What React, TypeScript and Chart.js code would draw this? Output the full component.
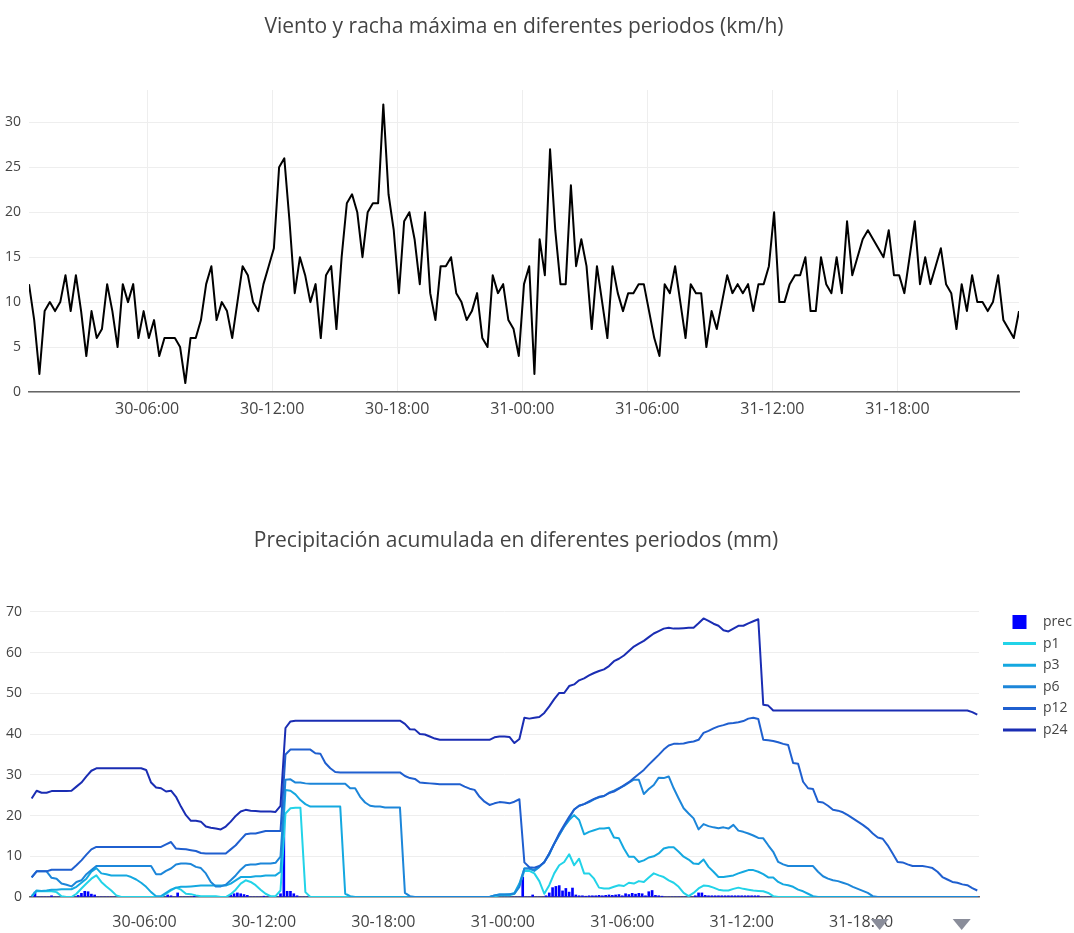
import React, { useEffect, useRef } from "react";
import { Chart, registerables } from "chart.js";

Chart.register(...registerables);

const FONT = "'Open Sans', sans-serif";
const TEXT = "#444";
const GRID = "#eeeeee";

const windTitle = "Viento y racha máxima en diferentes periodos (km/h)";
const precTitle = "Precipitación acumulada en diferentes periodos (mm)";

// hours counted from 30-00:00
const xTickHours = [6, 12, 18, 24, 30, 36, 42];
const xTickLabels = ["30-06:00", "30-12:00", "30-18:00", "31-00:00", "31-06:00", "31-12:00", "31-18:00"];
const windYTicks = [0, 5, 10, 15, 20, 25, 30];
const precYTicks = [0, 10, 20, 30, 40, 50, 60, 70];
// grey down-pointing markers under the lower axis
const markerHours = [42.93, 47.05];

// wind gust, every 15 min from 30-00:20
const windStartHour = 1 / 3;
const windStepHours = 0.25;
const wind = [
  12, 8, 2, 9, 10, 9, 10, 13, 9, 13,
  9, 4, 9, 6, 7, 12, 9, 5, 12, 10,
  12, 6, 9, 6, 8, 4, 6, 6, 6, 5,
  1, 6, 6, 8, 12, 14, 8, 10, 9, 6,
  10, 14, 13, 10, 9, 12, 14, 16, 25, 26,
  19, 11, 15, 13, 10, 12, 6, 13, 14, 7,
  15, 21, 22, 20, 15, 20, 21, 21, 32, 22,
  18, 11, 19, 20, 17, 12, 20, 11, 8, 14,
  14, 15, 11, 10, 8, 9, 11, 6, 5, 13,
  11, 12, 8, 7, 4, 12, 14, 2, 17, 13,
  27, 18, 12, 12, 23, 14, 17, 14, 7, 14,
  10, 6, 14, 11, 9, 11, 11, 12, 12, 9,
  6, 4, 12, 11, 14, 10, 6, 12, 11, 11,
  5, 9, 7, 10, 13, 11, 12, 11, 12, 9,
  12, 12, 14, 20, 10, 10, 12, 13, 13, 15,
  9, 9, 15, 12, 11, 15, 11, 19, 13, 15,
  17, 18, 17, 16, 15, 18, 13, 13, 11, 15,
  19, 12, 15, 12, 14, 16, 12, 11, 7, 12,
  9, 13, 10, 10, 9, 10, 13, 8, 7, 6, 9,
];

// accumulated precipitation, every 15 min from 30-00:20
const accStartHour = 1 / 3;
const accStepHours = 0.25;
const p1 = [
  0.2, 1.5, 1.4, 1.5, 1.4, 1.2, 0.2, 0, 0, 0.8,
  2.1, 3.3, 4.5, 5.3, 3.7, 2.6, 1.6, 0.4, 0, 0,
  0, 0, 0, 0, 0, 0, 0, 0.8, 1.6, 2.3,
  1.8, 0.8, 0.7, 0.4, 0.2, 0.2, 0.2, 0.2, 0, 0,
  0.7, 1.8, 3.3, 4.1, 3.7, 2.9, 1.8, 0.8, 0.2, 0.2,
  1.6, 20.5, 21.8, 21.9, 21.9, 1.2, 0, 0, 0, 0,
  0, 0, 0, 0, 0, 0, 0, 0, 0, 0,
  0, 0, 0, 0, 0, 0, 0, 0, 0, 0,
  0, 0, 0, 0, 0, 0, 0, 0, 0, 0,
  0, 0, 0, 0.2, 0.4, 0.4, 0.4, 0.8, 2.9, 6.4,
  6.4, 5.8, 3.9, 0.8, 2.9, 5.8, 7.8, 8.6, 10.5, 7.8,
  9.4, 5.8, 5.8, 4.5, 2.3, 2.1, 2.1, 2.5, 2.9, 2.7,
  3.5, 3.3, 3.9, 3.7, 4.8, 5.8, 5.3, 4.9, 4.1, 3.5,
  2.5, 1, 0.2, 1, 2.1, 2.8, 2.7, 2.3, 1.8, 1.6,
  1.6, 2, 2.3, 2, 1.8, 1.6, 1.5, 1.4, 1, 0.2,
  0, 0, 0, 0, 0, 0, 0, 0, 0, 0,
  0, 0, 0, 0, 0, 0, 0, 0, 0, 0,
  0, 0, 0, 0, 0, 0, 0, 0, 0, 0,
  0, 0, 0, 0, 0, 0, 0, 0, 0, 0, 0,
];
const p3 = [
  0.2, 1.6, 1.5, 1.6, 1.8, 1.8, 1.9, 1.9, 1.9, 2.5,
  3.5, 4.5, 6.2, 7.1, 5.8, 5.6, 5.3, 5.3, 5.3, 5.3,
  4.9, 4.3, 3.5, 2.5, 1.2, 0.2, 0.2, 1, 1.8, 2.3,
  2.5, 2.5, 2.6, 2.7, 2.8, 2.8, 2.8, 2.8, 2.8, 2.8,
  3.3, 4.1, 4.9, 4.9, 4.9, 5.1, 5.1, 5.3, 5.3, 5.3,
  6.2, 26.3, 26.1, 25.2, 23.8, 22.8, 22.2, 22.2, 22.2, 22.2,
  22.2, 22.2, 22.2, 0.8, 0.2, 0, 0, 0, 0, 0,
  0, 0, 0, 0, 0, 0, 0, 0, 0, 0,
  0, 0, 0, 0, 0, 0, 0, 0, 0, 0,
  0, 0, 0, 0.4, 0.6, 0.6, 0.6, 1, 3.3, 7,
  7, 6.4, 7.4, 8.6, 10.4, 13.1, 15.2, 17.3, 18.9, 20.1,
  18.9, 15.4, 16, 16.4, 16.8, 16.8, 17, 14.6, 14.4, 11.9,
  9.9, 9.9, 8.6, 9, 9.7, 10, 10.7, 11.9, 12.2, 12.2,
  11.1, 9.9, 9.2, 8.2, 8.1, 9.2, 7.4, 6.2, 4.9, 4.9,
  5.1, 5.3, 5.8, 6.2, 6.6, 6.6, 6.2, 5.6, 4.8, 4.8,
  3.7, 3.1, 2.9, 2.5, 1.8, 1.4, 0.8, 0.2, 0, 0,
  0, 0, 0, 0, 0, 0, 0, 0, 0, 0,
  0, 0, 0, 0, 0, 0, 0, 0, 0, 0,
  0, 0, 0, 0, 0, 0, 0, 0, 0, 0, 0,
];
const p6 = [
  4.8, 6.3, 6.3, 6.3, 4.7, 4.5, 3.3, 3, 2.6, 3.7,
  4.1, 5.6, 6.6, 7.6, 7.6, 7.6, 7.6, 7.6, 7.6, 7.6,
  7.6, 7.6, 7.6, 7.6, 7.6, 5.6, 5.6, 6.4, 7, 8,
  8.2, 8.2, 8.1, 7.4, 7.1, 5.8, 3.7, 2.6, 2.6, 3,
  4.1, 5.3, 6.7, 7.8, 8, 8, 8.2, 8.2, 8.2, 8.4,
  9.9, 28.8, 28.9, 28.1, 28.1, 27.9, 27.8, 27.8, 27.8, 27.8,
  27.8, 27.8, 27.8, 27.8, 26.7, 26.7, 24.6, 23.2, 22.4, 22.2,
  22.2, 22, 22, 22, 22, 1, 0.2, 0, 0, 0,
  0, 0, 0, 0, 0, 0, 0, 0, 0, 0,
  0, 0, 0, 0.4, 0.6, 0.6, 0.7, 0.8, 2.5, 7,
  7, 6.6, 7.4, 8.6, 10.7, 13.1, 15.2, 17.3, 19.3, 21.5,
  22.4, 22.8, 23.3, 24, 24.5, 24.8, 25.6, 26.1, 26.7, 27.3,
  28.1, 28.8, 28.8, 25.3, 26.5, 27.5, 29.3, 29.2, 29.6, 26.7,
  24.2, 21.8, 20.5, 19.3, 16.6, 17.9, 17.4, 17.1, 16.9, 17.1,
  16.8, 17.7, 16.3, 16, 15.6, 15.1, 14.5, 14.4, 12.7, 11.1,
  8.6, 8, 7.6, 7.6, 7.6, 7.6, 7.6, 7.6, 6.2, 5.1,
  4.5, 4.1, 3.9, 3.5, 3.1, 2.5, 2, 1.5, 1, 0.2,
  0, 0, 0, 0, 0, 0, 0, 0, 0, 0,
  0, 0, 0, 0, 0, 0, 0, 0, 0, 0, 0,
];
const p12 = [
  4.8, 6.3, 6.3, 6.3, 6.7, 6.7, 6.7, 6.7, 6.7, 7.8,
  9, 10.4, 11.7, 12.3, 12.3, 12.3, 12.3, 12.3, 12.3, 12.3,
  12.3, 12.3, 12.3, 12.3, 12.3, 12.3, 12.3, 12.9, 13.5, 11.9,
  11.8, 11.7, 11.5, 11.3, 10.8, 10.7, 10.7, 10.7, 10.7, 10.7,
  11.7, 12.7, 14.1, 15.4, 15.6, 15.6, 15.9, 16.2, 16.2, 16.2,
  16.2, 35, 36.2, 36.2, 36.2, 36.2, 36.2, 35.3, 35.2, 32.9,
  31.6, 30.7, 30.6, 30.6, 30.6, 30.6, 30.6, 30.6, 30.6, 30.6,
  30.6, 30.6, 30.6, 30.6, 30.6, 29.7, 29.2, 29, 28.1, 28,
  27.9, 27.8, 27.7, 27.7, 27.7, 27.7, 27.7, 27.1, 26.6, 26.3,
  24.6, 23.4, 22.6, 23, 23.3, 23.2, 23, 23.4, 24, 8.5,
  7.3, 7.2, 7.6, 8.5, 10.7, 13.1, 15.6, 17.7, 19.7, 21.5,
  22.4, 22.8, 23.5, 24.1, 24.6, 24.8, 25.5, 25.9, 26.6, 27.4,
  28.2, 29.2, 30.2, 31.2, 32.5, 33.7, 34.9, 36.2, 37.2, 37.6,
  37.6, 37.7, 38, 38.2, 38.6, 40.3, 40.8, 41.4, 41.9, 42.2,
  42.6, 42.7, 42.9, 43.2, 43.8, 44, 43.7, 38.6, 38.5, 38.3,
  38, 37.6, 37.3, 32.9, 32.7, 28.3, 26.7, 26.5, 23.4, 23.2,
  22.4, 21.4, 21.2, 20.8, 20.1, 19.3, 18.5, 17.7, 16.8, 15.6,
  14.6, 14.3, 12.7, 10.7, 8.6, 8.5, 8, 7.6, 7.6, 7.6,
  7.4, 7.1, 6.2, 4.9, 4.3, 3.7, 3.5, 3.1, 2.9, 2.2, 1.6,
];
const p24 = [
  24.2, 26.1, 25.6, 25.6, 26, 26, 26, 26, 26.1, 27.1,
  28.1, 29.6, 31, 31.6, 31.6, 31.6, 31.6, 31.6, 31.6, 31.6,
  31.6, 31.6, 31.6, 31.2, 28.1, 26.9, 26.7, 25.9, 26.1, 24.6,
  22.2, 20.1, 18.7, 18.7, 18.5, 17.3, 17, 16.8, 16.6, 17.3,
  18.5, 19.9, 21, 21.4, 21.2, 21.1, 21, 21, 21, 20.9,
  22.4, 41.5, 43.1, 43.3, 43.3, 43.3, 43.3, 43.3, 43.3, 43.3,
  43.3, 43.3, 43.3, 43.3, 43.3, 43.3, 43.3, 43.3, 43.3, 43.3,
  43.3, 43.3, 43.3, 43.3, 43.3, 42.5, 41.2, 41.1, 40, 39.9,
  39.4, 38.9, 38.6, 38.6, 38.6, 38.6, 38.6, 38.6, 38.6, 38.6,
  38.6, 38.6, 38.6, 39.2, 39.4, 39.4, 39.3, 37.8, 38.8, 44,
  43.8, 44, 44.2, 45.2, 46.8, 48.6, 50.1, 50.1, 51.8, 52.2,
  53.2, 53.7, 54.4, 55, 55.5, 55.9, 56.7, 57.9, 58.5, 59.3,
  60.4, 61.5, 62.2, 62.9, 63.8, 64.7, 65.3, 65.9, 66.1, 65.9,
  65.9, 66, 66.1, 66.1, 67.2, 68.4, 67.8, 67.1, 66.6, 65.5,
  65.2, 65.9, 66.6, 66.6, 67.2, 67.7, 68.2, 47.2, 47, 45.8,
  45.8, 45.8, 45.8, 45.8, 45.8, 45.8, 45.8, 45.8, 45.8, 45.8,
  45.8, 45.8, 45.8, 45.8, 45.8, 45.8, 45.8, 45.8, 45.8, 45.8,
  45.8, 45.8, 45.8, 45.8, 45.8, 45.8, 45.8, 45.8, 45.8, 45.8,
  45.8, 45.8, 45.8, 45.8, 45.8, 45.8, 45.8, 45.8, 45.8, 45.4, 44.8,
];

// 10-minute precipitation, every 10 min from 30-00:20
const precStartHour = 1 / 3;
const precStepHours = 1 / 6;
const prec = [
  0, 1.2, 0, 0, 0, 0, 0.3, 0, 0, 0, 0, 0, 0, 0, 0.4, 0.9, 1.4, 1.3,
  0.7, 0.5, 0, 0, 0, 0, 0, 0, 0, 0, 0, 0, 0, 0, 0, 0, 0, 0,
  0, 0, 0, 0, 0, 0.5, 0.3, 0, 1.0, 0, 0, 0, 0, 0.2, 0, 0, 0, 0,
  0, 0, 0, 0, 0, 0, 0.4, 0.8, 1.0, 0.8, 0.6, 0.4, 0, 0, 0, 0, 0.2, 0,
  0, 0, 0, 0.8, 18.8, 1.4, 1.4, 0.8, 0.3, 0, 0, 0, 0, 0, 0, 0, 0, 0,
  0, 0, 0, 0, 0, 0, 0, 0, 0, 0, 0, 0, 0, 0, 0, 0, 0, 0,
  0, 0, 0, 0, 0, 0, 0, 0, 0, 0, 0, 0, 0, 0, 0, 0, 0, 0,
  0, 0, 0, 0, 0, 0, 0, 0, 0, 0, 0, 0, 0, 0, 0, 0, 0, 0,
  0, 0, 0, 0, 4.9, 0, 0, 0.5, 0, 0, 0, 0.3, 1.0, 2.3, 2.6, 2.8, 1.5, 2.1,
  1.2, 2.2, 0.5, 0.3, 0.3, 0.2, 0.3, 0.3, 0.3, 0.4, 0.3, 0.4, 0.5, 0.4, 0.5, 0.6, 0.3, 0.8,
  0.6, 0.9, 0.7, 0.9, 0.8, 0.3, 1.3, 1.6, 0.4, 0.3, 0.2, 0, 0, 0, 0, 0, 0, 0,
  0, 0, 0.3, 1.0, 1.0, 0.4, 0.3, 0.3, 0.3, 0.3, 0.3, 0.3, 0.3, 0.3, 0.3, 0.3, 0.3, 0.3,
  0.3, 0.3, 0.3, 0.3, 0, 0, 0, 0, 0, 0, 0, 0, 0, 0, 0, 0, 0, 0,
  0, 0, 0, 0, 0, 0, 0, 0, 0, 0, 0, 0, 0, 0, 0, 0, 0, 0,
  0, 0, 0, 0, 0, 0, 0, 0, 0, 0, 0, 0, 0, 0, 0, 0, 0, 0,
  0, 0, 0, 0, 0, 0, 0, 0, 0, 0, 0, 0, 0, 0, 0, 0,
];

const seriesNames = ["prec", "p1", "p3", "p6", "p12", "p24"];
const seriesColors = ["#0000ff", "#22d3e8", "#14a8e0", "#1c86d9", "#1f5fcf", "#1a2db3"];

const toPoints = (values: number[], start: number, step: number) =>
  values.map((v, i) => ({ x: start + i * step, y: v }));

const tickLabel = (v: number) => {
  const i = xTickHours.indexOf(v);
  return i >= 0 ? xTickLabels[i] : "";
};

const figTitlePlugin = {
  id: "figTitle",
  afterDraw(chart: any, _args: any, opts: any) {
    const ctx = chart.ctx;
    ctx.save();
    ctx.font = `${opts.size}px ${FONT}`;
    ctx.fillStyle = TEXT;
    ctx.textAlign = "center";
    ctx.textBaseline = "middle";
    ctx.fillText(opts.text, opts.x, opts.y);
    ctx.restore();
  },
};

const sideLegendPlugin = {
  id: "sideLegend",
  afterDraw(chart: any, _args: any, opts: any) {
    const { ctx, chartArea } = chart;
    const x0 = chartArea.right + opts.offsetX;
    ctx.save();
    ctx.font = `${opts.size}px ${FONT}`;
    ctx.textBaseline = "middle";
    ctx.textAlign = "left";
    chart.data.datasets.forEach((ds: any, i: number) => {
      const y = chartArea.top + opts.offsetY + i * opts.rowHeight;
      if (ds.type === "bar") {
        ctx.fillStyle = ds.backgroundColor;
        ctx.fillRect(x0 + opts.lineLength / 2 - 7, y - 7, 14, 14);
      } else {
        ctx.strokeStyle = ds.borderColor;
        ctx.lineWidth = 3;
        ctx.beginPath();
        ctx.moveTo(x0, y);
        ctx.lineTo(x0 + opts.lineLength, y);
        ctx.stroke();
      }
      ctx.fillStyle = TEXT;
      ctx.fillText(ds.label, x0 + opts.lineLength + opts.gap, y);
    });
    ctx.restore();
  },
};

const axisMarkersPlugin = {
  id: "axisMarkers",
  afterDraw(chart: any, _args: any, opts: any) {
    const { ctx, scales, chartArea } = chart;
    ctx.save();
    ctx.fillStyle = opts.color;
    opts.hours.forEach((h: number) => {
      const cx = scales.x.getPixelForValue(h);
      const top = chartArea.bottom + opts.offsetY;
      ctx.beginPath();
      ctx.moveTo(cx - opts.halfWidth, top);
      ctx.lineTo(cx + opts.halfWidth, top);
      ctx.lineTo(cx, top + opts.height);
      ctx.closePath();
      ctx.fill();
    });
    ctx.restore();
  },
};

function xScale(min: number, max: number, showGrid: boolean, labelPad: number) {
  return {
    type: "linear",
    min,
    max,
    offset: false,
    afterBuildTicks: (axis: any) => {
      axis.ticks = xTickHours.map((v) => ({ value: v }));
    },
    afterFit: (axis: any) => {
      axis.height = 30;
    },
    ticks: {
      callback: (v: number) => tickLabel(v),
      font: { family: FONT, size: 16 },
      color: TEXT,
      padding: labelPad,
      maxRotation: 0,
      autoSkip: false,
    },
    grid: { display: showGrid, offset: false, color: GRID, drawTicks: false },
    border: { display: true, color: "#666", width: 1.5 },
  };
}

function yScale(max: number, ticks: number[], width: number) {
  return {
    min: 0,
    max,
    afterBuildTicks: (axis: any) => {
      axis.ticks = ticks.map((v) => ({ value: v }));
    },
    afterFit: (axis: any) => {
      axis.width = width;
    },
    ticks: {
      font: { family: FONT, size: 14 },
      color: TEXT,
      padding: 8,
    },
    grid: { color: GRID, drawTicks: false },
    border: { display: false },
  };
}

export default function App() {
  const topRef = useRef<HTMLCanvasElement>(null);
  const botRef = useRef<HTMLCanvasElement>(null);

  useEffect(() => {
    const windChart = new Chart(topRef.current as HTMLCanvasElement, {
      type: "line",
      data: {
        datasets: [
          {
            label: "racha",
            data: toPoints(wind, windStartHour, windStepHours),
            borderColor: "#000000",
            borderWidth: 2,
            pointRadius: 0,
            tension: 0,
            borderJoinStyle: "round",
          },
        ],
      },
      options: {
        animation: false,
        responsive: false,
        maintainAspectRatio: false,
        layout: { padding: { left: 0, right: 55, top: 90, bottom: 18 } },
        plugins: {
          legend: { display: false },
          tooltip: { enabled: false },
          figTitle: { text: windTitle, x: 524, y: 27, size: 21 },
        } as any,
        scales: {
          x: xScale(windStartHour, windStartHour + (wind.length - 1) * windStepHours, true, 8) as any,
          y: yScale(33.6, windYTicks, 29) as any,
        },
      },
      plugins: [figTitlePlugin as any],
    });

    const precChart = new Chart(botRef.current as HTMLCanvasElement, {
      type: "line",
      data: {
        datasets: [
          {
            type: "bar",
            label: seriesNames[0],
            data: toPoints(prec, precStartHour, precStepHours),
            backgroundColor: seriesColors[0],
            barThickness: 2,
            order: 10,
          } as any,
          ...[p1, p3, p6, p12, p24].map((vals, i) => ({
            type: "line",
            label: seriesNames[i + 1],
            data: toPoints(vals, accStartHour, accStepHours),
            borderColor: seriesColors[i + 1],
            borderWidth: 2,
            pointRadius: 0,
            tension: 0,
            borderJoinStyle: "round",
            order: 5 - i,
          })),
        ],
      },
      options: {
        animation: false,
        responsive: false,
        maintainAspectRatio: false,
        layout: { padding: { left: 0, right: 95, top: 165, bottom: 6 } },
        plugins: {
          legend: { display: false },
          tooltip: { enabled: false },
          figTitle: { text: precTitle, x: 516, y: 101, size: 21 },
          sideLegend: { offsetX: 24, offsetY: 17, rowHeight: 21.6, lineLength: 33, gap: 7, size: 14 },
          axisMarkers: { hours: markerHours, offsetY: 22, halfWidth: 9, height: 11, color: "#8a8d9a" },
        } as any,
        scales: {
          x: xScale(0.25, 47.92, false, 16) as any,
          y: yScale(71.7, precYTicks, 30) as any,
        },
      },
      plugins: [figTitlePlugin as any, sideLegendPlugin as any, axisMarkersPlugin as any],
    });

    return () => {
      windChart.destroy();
      precChart.destroy();
    };
  }, []);

  return (
    <div
      style={{
        position: "absolute",
        left: 0,
        top: 0,
        width: 1074,
        height: 933,
        overflow: "hidden",
        background: "#ffffff",
      }}
    >
      <canvas ref={topRef} width={1074} height={440} style={{ position: "absolute", left: 0, top: 0 }} />
      <canvas ref={botRef} width={1074} height={493} style={{ position: "absolute", left: 0, top: 440 }} />
    </div>
  );
}
